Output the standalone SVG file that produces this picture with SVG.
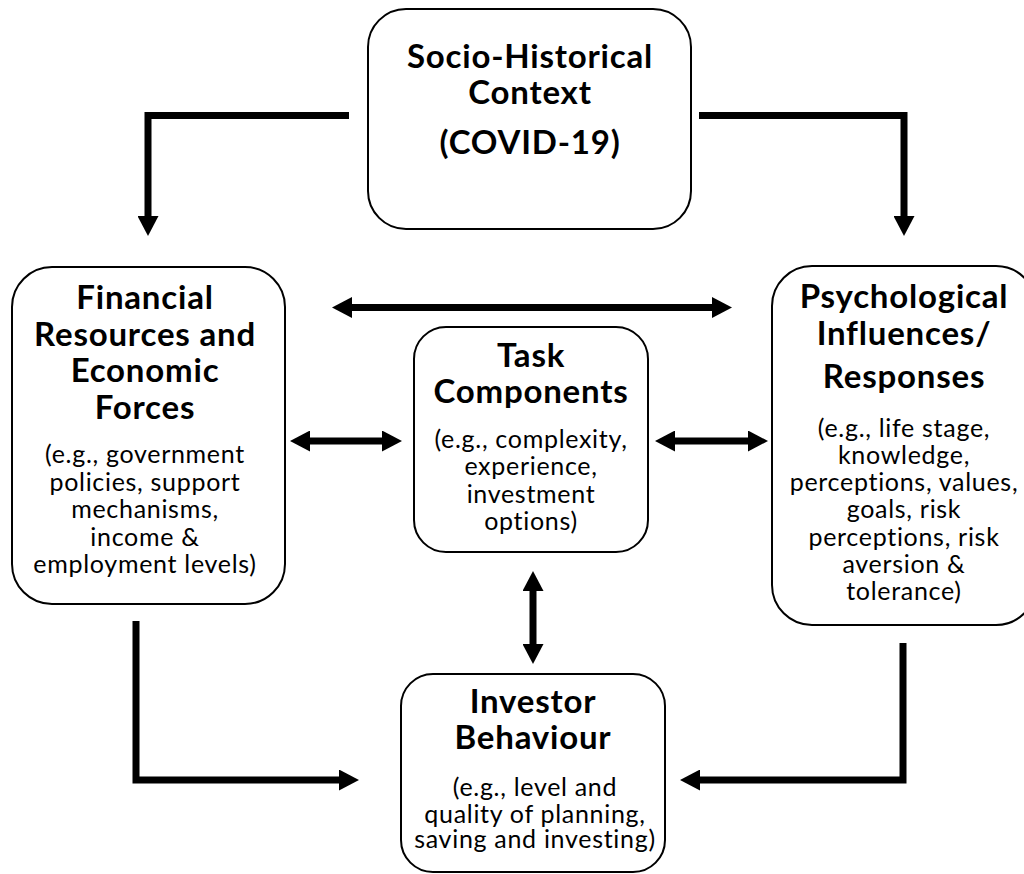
<svg xmlns="http://www.w3.org/2000/svg" width="1024" height="874" viewBox="0 0 1024 874">
<style>
.box{fill:#fff;stroke:#000;stroke-width:2}
.t{font-family:Lato,"Open Sans","Liberation Sans",sans-serif;font-weight:bold;font-size:33px;letter-spacing:0.8px;text-anchor:middle;fill:#000}
.b{font-family:Lato,"Open Sans","Liberation Sans",sans-serif;font-size:25px;letter-spacing:0.7px;text-anchor:middle;fill:#000}
.c{fill:none;stroke:#000;stroke-width:7;stroke-linejoin:miter;stroke-linecap:butt}
</style>
<defs>
<marker id="ah" viewBox="0 0 20 21" refX="1" refY="10.5" markerWidth="20" markerHeight="21" markerUnits="userSpaceOnUse" orient="auto-start-reverse">
<path d="M0,0 L20,10.5 L0,21 Z" fill="#000"/>
</marker>
</defs>
<rect width="1024" height="874" fill="#fff"/>
<g id="connectors">
<path class="c" d="M349,115.5 H148 V217" marker-end="url(#ah)"/>
<path class="c" d="M699,115.5 H904 V217" marker-end="url(#ah)"/>
<path class="c" d="M351,307.5 H713" marker-start="url(#ah)" marker-end="url(#ah)"/>
<path class="c" d="M309,441 H383" marker-start="url(#ah)" marker-end="url(#ah)"/>
<path class="c" d="M674,441 H749" marker-start="url(#ah)" marker-end="url(#ah)"/>
<path class="c" d="M533,590 V645" marker-start="url(#ah)" marker-end="url(#ah)"/>
<path class="c" d="M136,621 V780 H340" marker-end="url(#ah)"/>
<path class="c" d="M903,643 V780 H699" marker-end="url(#ah)"/>
</g>
<g id="socio">
<rect class="box" x="368" y="9" width="323" height="220" rx="38"/>
<text class="t"><tspan x="530" y="68">Socio-Historical</tspan><tspan x="530" y="104">Context</tspan><tspan x="530" y="154">(COVID-19)</tspan></text>
</g>
<g id="financial">
<rect class="box" x="12" y="267" width="273" height="337" rx="40"/>
<text class="t"><tspan x="145" y="309">Financial</tspan><tspan x="145" y="346">Resources and</tspan><tspan x="145" y="382">Economic</tspan><tspan x="145" y="419">Forces</tspan></text>
<text class="b"><tspan x="145" y="463">(e.g., government</tspan><tspan x="145" y="491">policies, support</tspan><tspan x="145" y="518">mechanisms,</tspan><tspan x="145" y="546">income &amp;</tspan><tspan x="145" y="573">employment levels)</tspan></text>
</g>
<g id="task">
<rect class="box" x="414" y="327" width="234" height="225" rx="32"/>
<text class="t"><tspan x="531" y="367">Task</tspan><tspan x="531" y="403">Components</tspan></text>
<text class="b"><tspan x="531" y="448">(e.g., complexity,</tspan><tspan x="531" y="475">experience,</tspan><tspan x="531" y="503">investment</tspan><tspan x="531" y="530">options)</tspan></text>
</g>
<g id="psychological">
<rect class="box" x="772" y="266" width="264" height="359" rx="40"/>
<text class="t"><tspan x="904" y="308">Psychological</tspan><tspan x="904" y="345">Influences/</tspan><tspan x="904" y="388">Responses</tspan></text>
<text class="b"><tspan x="904" y="437">(e.g., life stage,</tspan><tspan x="904" y="464">knowledge,</tspan><tspan x="904" y="491">perceptions, values,</tspan><tspan x="904" y="518">goals, risk</tspan><tspan x="904" y="546">perceptions, risk</tspan><tspan x="904" y="573">aversion &amp;</tspan><tspan x="904" y="600">tolerance)</tspan></text>
</g>
<g id="investor">
<rect class="box" x="401" y="674" width="264" height="198" rx="32"/>
<text class="t"><tspan x="533" y="713">Investor</tspan><tspan x="533" y="749">Behaviour</tspan></text>
<text class="b"><tspan x="535" y="796">(e.g., level and</tspan><tspan x="535" y="823">quality of planning,</tspan><tspan x="535" y="848">saving and investing)</tspan></text>
</g>
</svg>
